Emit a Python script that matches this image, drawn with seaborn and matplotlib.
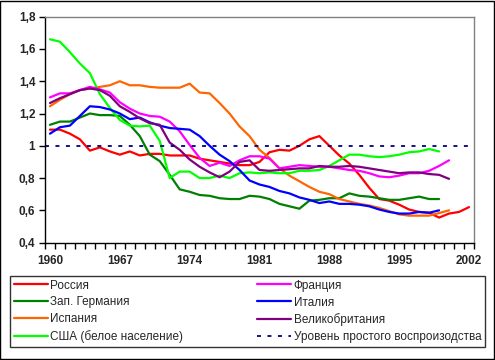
import matplotlib
matplotlib.use("Agg")
import matplotlib.pyplot as plt
import seaborn as sns
from matplotlib.patches import Rectangle
from matplotlib.ticker import FixedLocator, FuncFormatter

# годы и значения (коэффициент воспроизводства, по графику)
years = list(range(1960, 2003))

russia = [1.10, 1.10, 1.075, 1.04, 0.97, 0.99, 0.965, 0.945, 0.965, 0.94,
          0.95, 0.95, 0.94, 0.94, 0.94, 0.92, 0.91, 0.90, 0.89, 0.88,
          0.88, 0.90, 0.96, 0.975, 0.97, 1.00, 1.04, 1.06, 1.00, 0.94,
          0.89, 0.82, 0.74, 0.67, 0.66, 0.635, 0.605, 0.59, 0.585, 0.555,
          0.58, 0.59, 0.62]
germany = [1.13, 1.15, 1.15, 1.175, 1.20, 1.19, 1.19, 1.185, 1.13, 1.06,
           0.945, 0.905, 0.82, 0.73, 0.715, 0.695, 0.69, 0.675, 0.67, 0.67,
           0.69, 0.685, 0.67, 0.64, 0.625, 0.61, 0.66, 0.665, 0.675, 0.675,
           0.705, 0.69, 0.685, 0.675, 0.665, 0.665, 0.675, 0.685, 0.67, 0.67]
spain = [1.245, 1.285, 1.32, 1.345, 1.355, 1.365, 1.375, 1.40, 1.375, 1.375,
         1.365, 1.36, 1.36, 1.36, 1.385, 1.33, 1.325, 1.265, 1.20, 1.12,
         1.06, 0.975, 0.925, 0.86, 0.815, 0.78, 0.745, 0.715, 0.70, 0.67,
         0.655, 0.64, 0.63, 0.615, 0.595, 0.575, 0.567, 0.567, 0.567, 0.583,
         0.60]
usa = [1.66, 1.645, 1.58, 1.51, 1.45, 1.32, 1.235, 1.16, 1.125, 1.12,
       1.125, 1.03, 0.80, 0.84, 0.84, 0.80, 0.80, 0.815, 0.80, 0.83,
       0.835, 0.83, 0.835, 0.83, 0.83, 0.845, 0.845, 0.85, 0.875, 0.91,
       0.945, 0.945, 0.935, 0.93, 0.935, 0.945, 0.96, 0.965, 0.98, 0.965]
france = [1.30, 1.325, 1.325, 1.345, 1.365, 1.35, 1.33, 1.27, 1.23, 1.20,
          1.185, 1.18, 1.15, 1.09, 1.005, 0.925, 0.875, 0.895, 0.875, 0.91,
          0.935, 0.935, 0.92, 0.86, 0.87, 0.88, 0.875, 0.87, 0.87, 0.86,
          0.85, 0.845, 0.83, 0.81, 0.805, 0.815, 0.83, 0.83, 0.845, 0.875,
          0.91]
italy = [1.075, 1.115, 1.125, 1.185, 1.245, 1.24, 1.225, 1.20, 1.165, 1.175,
         1.145, 1.125, 1.11, 1.105, 1.10, 1.06, 1.00, 0.945, 0.905, 0.85,
         0.785, 0.76, 0.745, 0.72, 0.705, 0.68, 0.665, 0.645, 0.655, 0.64,
         0.64, 0.635, 0.625, 0.605, 0.59, 0.58, 0.58, 0.59, 0.585, 0.60]
uk = [1.265, 1.295, 1.32, 1.345, 1.355, 1.345, 1.31, 1.245, 1.21, 1.17,
      1.14, 1.13, 1.02, 0.975, 0.915, 0.87, 0.835, 0.805, 0.84, 0.90,
      0.91, 0.85, 0.845, 0.85, 0.855, 0.86, 0.86, 0.875, 0.87, 0.87,
      0.875, 0.87, 0.86, 0.85, 0.84, 0.83, 0.835, 0.835, 0.825, 0.82,
      0.795]

replacement_level = 1.0
x_labels = [1960, 1967, 1974, 1981, 1988, 1995, 2002]
y_ticks = [0.4, 0.6, 0.8, 1.0, 1.2, 1.4, 1.6, 1.8]

series = [
    ("Россия", russia, "#FF0000"),
    ("Зап. Германия", germany, "#008000"),
    ("Испания", spain, "#FF6600"),
    ("США (белое население)", usa, "#00FF00"),
    ("Франция", france, "#FF00FF"),
    ("Италия", italy, "#0000FF"),
    ("Великобритания", uk, "#800080"),
]

sns.set_style("white")
plt.rcParams["font.family"] = ["Liberation Sans", "DejaVu Sans"]

fig = plt.figure(figsize=(4.95, 3.6), dpi=100)
ax = fig.add_axes([45 / 495, 1 - 242.6 / 360, 429 / 495, (242.6 - 16.7) / 360])

for name, vals, color in series:
    sns.lineplot(x=years[:len(vals)], y=vals, ax=ax, color=color,
                 linewidth=1.6, label=name)

# уровень простого воспроизводства
ax.plot([1959.5, 2002.5], [replacement_level, replacement_level],
        color="#000080", linewidth=1.3, linestyle=(0, (2.2, 3.6)),
        label="Уровень простого воспроизодства")

ax.set_xlim(1959.5, 2002.5)
ax.set_ylim(0.4, 1.8)

ax.set_xticks(x_labels)
ax.set_xticklabels([str(y) for y in x_labels])
ax.xaxis.set_minor_locator(FixedLocator([y + 0.5 for y in range(1959, 2003)]))
ax.tick_params(axis="x", which="major", length=0, pad=9)
ax.tick_params(axis="x", which="minor", length=4, width=1, color="black",
               direction="out", bottom=True)

ax.set_yticks(y_ticks)
ax.yaxis.set_major_formatter(FuncFormatter(
    lambda v, p: ("%g" % round(v, 1)).replace(".", ",")))
ax.tick_params(axis="y", which="major", length=4, width=1, color="black",
               direction="out", left=True, pad=3)

for lab in ax.get_xticklabels() + ax.get_yticklabels():
    lab.set_fontweight("bold")
    lab.set_fontsize(8.5)

ax.spines["left"].set_color("black")
ax.spines["bottom"].set_color("black")
ax.spines["top"].set_color("#808080")
ax.spines["right"].set_color("#808080")
for s in ax.spines.values():
    s.set_linewidth(1)
ax.set_xlabel("")
ax.set_ylabel("")

handles, labels = ax.get_legend_handles_labels()
ax.get_legend().remove()
leg = fig.legend(handles, labels, ncol=2, loc="upper left",
                 bbox_to_anchor=(10 / 495, 1 - 345 / 360, 475 / 495, 69 / 360),
                 mode="expand", frameon=True, fancybox=False, fontsize=8.5,
                 handlelength=2.9, handletextpad=0.2, labelspacing=0.42,
                 borderpad=0.3, borderaxespad=0)
leg.get_frame().set_edgecolor("black")
leg.get_frame().set_linewidth(1)

# рамка вокруг всего рисунка
fig.patches.append(Rectangle((0.001, 0.002), 0.997, 0.996, transform=fig.transFigure,
                             fill=False, edgecolor="black", linewidth=1))

fig.savefig("out.png", dpi=100)
